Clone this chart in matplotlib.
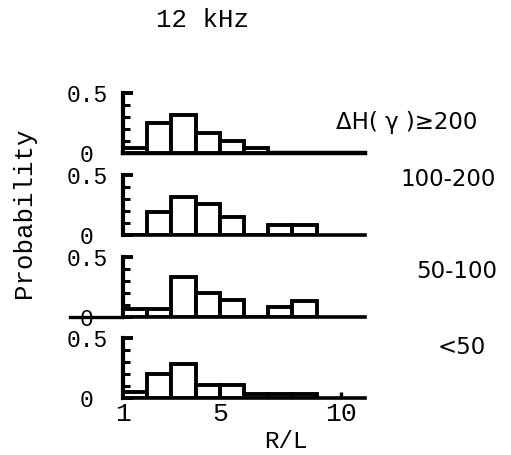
import matplotlib.pyplot as plt
from matplotlib.ticker import FixedLocator

# R/L razredi (levi robovi, širina 1)
bin_left = [1, 2, 3, 4, 5, 6, 7, 8]

# verjetnosti po skupinah ΔH(γ)
p_ge200 = [0.04, 0.25, 0.32, 0.17, 0.10, 0.04, 0.0, 0.0]
p_100_200 = [0.0, 0.19, 0.32, 0.26, 0.15, 0.0, 0.08, 0.08]
p_50_100 = [0.07, 0.07, 0.33, 0.20, 0.14, 0.0, 0.08, 0.13]
p_lt50 = [0.05, 0.20, 0.28, 0.11, 0.11, 0.03, 0.03, 0.03]

series = [p_ge200, p_100_200, p_50_100, p_lt50]
group_labels = ["ΔH( γ )≥200", "100-200", "50-100", "<50"]
label_pos = [(407, 123), (448, 180), (457, 272), (462, 348)]

W, H = 511, 455
mono = "Liberation Mono"

fig = plt.figure(figsize=(W / 100, H / 100), dpi=100)

# spodnji robovi panelov (piksli od zgoraj)
zero_y = [153, 235, 317, 398]
panel_h = 60
left, right = 123, 365

axes = []
for i, (vals, y0) in enumerate(zip(series, zero_y)):
    ax = fig.add_axes([left / W, (H - y0) / H, (right - left) / W, panel_h / H])
    ax.bar(bin_left, vals, width=1, align="edge", color="white",
           edgecolor="black", linewidth=2.8, zorder=3)
    ax.set_xlim(1, 1 + (right - left) / 24.2)
    ax.set_ylim(0, 0.5)
    for s in ["top", "right"]:
        ax.spines[s].set_visible(False)
    ax.spines["left"].set_bounds(0, 0.5)
    ax.spines["left"].set_linewidth(3)
    ax.spines["bottom"].set_linewidth(3.2 if i == 0 else 2.6)
    ax.set_facecolor("none")

    ax.yaxis.set_major_locator(FixedLocator([0, 0.5]))
    ax.yaxis.set_minor_locator(FixedLocator([0.1, 0.2, 0.3, 0.4]))
    ax.set_yticklabels(["0", "0.5"], fontfamily=mono, fontsize=16.5)
    ax.tick_params(axis="y", which="major", direction="in", length=7, width=2.8, pad=26)
    ax.tick_params(axis="y", which="minor", direction="in", length=5, width=2.2)
    for lab in ax.get_yticklabels():
        lab.set_horizontalalignment("center")

    if i < 3:
        ax.set_xticks([])
    axes.append(ax)

    fig.text(label_pos[i][0] / W, 1 - label_pos[i][1] / H, group_labels[i],
             ha="center", va="center", fontsize=16.5, family="DejaVu Sans")

# črta čez ničlo tretjega panela
axes[2].plot([-0.22, 0], [0, 0], color="black", linewidth=2.4,
             transform=axes[2].get_yaxis_transform(), clip_on=False)

bottom = axes[-1]
bottom.set_xticks([1, 5, 10])
bottom.set_xticklabels(["1", "5", "10"], fontfamily=mono, fontsize=19)
bottom.set_xticks(range(2, 10), minor=True)
bottom.tick_params(axis="x", which="major", direction="in", length=4, width=2.4, pad=3)
bottom.tick_params(axis="x", which="minor", direction="in", length=3, width=2.2)

fig.text(286 / W, 1 - 442 / H, "R/L", ha="center", va="center",
         fontfamily=mono, fontsize=17.5)
fig.text(24 / W, 1 - 213 / H, "Probability", ha="center", va="center",
         rotation=90, fontfamily=mono, fontsize=18.5)
fig.text(202 / W, 1 - 20 / H, "12 kHz", ha="center", va="center",
         fontfamily=mono, fontsize=18.5)

plt.savefig("out.png", dpi=100)
